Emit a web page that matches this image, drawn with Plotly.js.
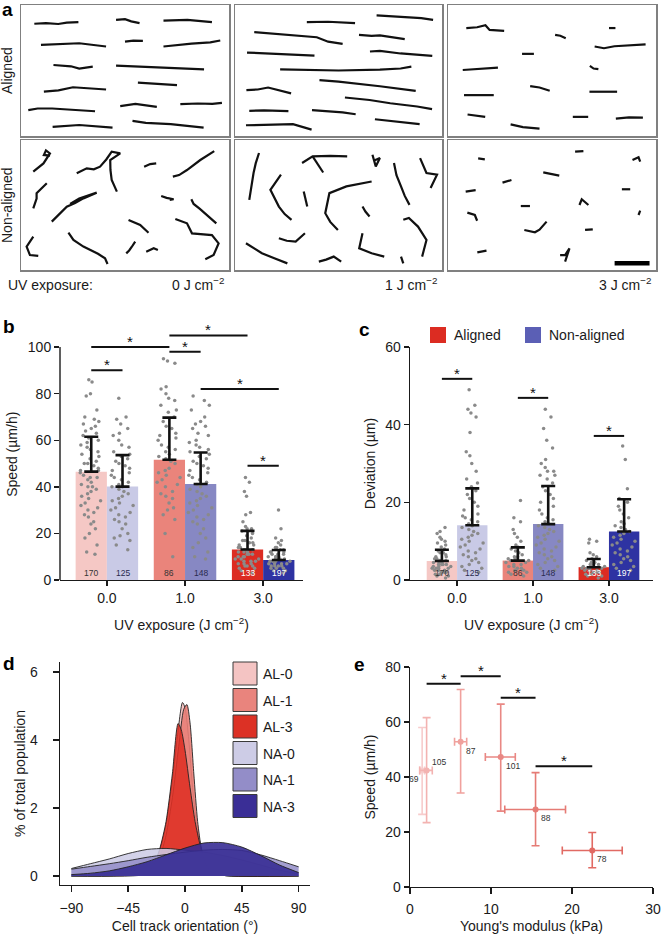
<!DOCTYPE html>
<html>
<head>
<meta charset="utf-8">
<script src="https://cdn.plot.ly/plotly-3.0.1.min.js"></script>
<style>
  body { margin: 0; background: #fff; }
  #fig { width: 661px; height: 934px; }
</style>
</head>
<body>
<div id="fig"></div>
<script>
// ---------- panel a : cell tracks (box-local 0-100 units, x,y pairs) ----------
const tracksAlign0 = [
  [6.4,85.7, 12,86.2, 17.9,85.5, 22,86.5, 27.6,87.0],
  [45.7,88.7, 50,89.2, 53,87.5, 57,86.2],
  [68.5,88, 75,88.2, 80,88.6, 91.8,87],
  [9.6,69.6, 20,70.2, 28,70.8, 40.9,68.3],
  [50,72.1, 54,72.8, 58.6,72.6],
  [68.5,68.3, 76,69.6, 82,70.5, 91,71.5, 95.8,72.9],
  [15.6,54.2, 24,53.2, 28,51.5, 34.5,53],
  [45.7,53.7, 55,53.2, 65,52.5, 88,50.9],
  [11,33.8, 18,34.8, 25,37.2, 40.9,35.5],
  [56.2,40.7, 66,39.8, 75,38.9],
  [3.5,19.7, 8,21, 15,21, 25,20, 35.6,18.9],
  [47.7,22.8, 52,23.5, 55,24.5, 65.3,22.2],
  [76.6,24.3, 85,24.8, 92,24.5, 96.6,25.3],
  [15.2,6.9, 22,7.8, 28,8.4, 44,6.4],
  [53.6,11.5, 57,11, 60,10, 72,9, 87.8,6.4]
];
const tracksAlign1 = [
  [34.7,87, 45,87.2, 58,86.2],
  [68.4,92.1, 80,91, 90,90, 95.7,88.7],
  [9.3,79.3, 25,77, 39.5,75.4, 45,72, 52,70.3],
  [59.9,77.2, 66,76.5, 70,76.8, 82,73.9],
  [5.8,63.7, 20,62.5, 38.4,61.4],
  [65.2,64.5, 70,65, 80,63, 95.3,61.1],
  [21.8,50.9, 35,50.5, 50,50, 70,50.6, 80,51.5, 85.2,52.9],
  [40.8,42.7, 50,41.5, 70,38, 87.3,34.5],
  [5.5,35, 11,35.5, 16,37, 27.1,32.5],
  [53.1,29.4, 65,27.5, 75,25, 88,22.5, 95.2,20.5],
  [6.9,19.2, 14,19.5, 25.8,19],
  [37.2,19.7, 45,19, 52,18, 58.3,16.6],
  [5.3,8.2, 18,8.8, 28,9, 37,4.9],
  [67.6,12.8, 78,11, 89.2,9]
];
const tracksAlign3 = [
  [8.8,82.4, 14,83, 18,84.5, 20,81, 27,80.3],
  [77.4,82.4, 80.5,82.4],
  [51.5,77.2, 54,76.5, 56.6,74.7],
  [70.5,68.3, 75,67, 80,68.5, 95,70],
  [35.6,62.7, 41.3,62.7],
  [7.1,50.4, 15,51.3, 24,52.2],
  [68.2,53.5, 70,51.5, 72.3,51],
  [39.5,38.1, 44,37, 48.9,34.5],
  [68,33.8, 81.3,33.8],
  [7.7,31.2, 22,31.2],
  [9.4,16.4, 13,15.8, 17.9,14.6],
  [60,14.6, 67.4,14.6],
  [80.7,13.3, 87,14.2, 93.7,14],
  [30.1,8.9, 36,6.8, 44,5.6]
];
const tracksNon0 = [
  [5.9,75.6, 8.5,79, 10.8,82, 13.9,89.7, 12,92, 11,88.5, 14,88],
  [26.8,74.4, 31.6,78.2, 35,77.5, 38,79.5, 41,85, 43.6,91, 47.7,89.7, 42.9,84.6, 43,77, 43.6,69.2, 46.1,60.3],
  [59.2,79.5, 62.1,81.5, 65,82],
  [73,71.8, 76,73, 79.8,76.9, 86.2,84.6, 92.9,91.5],
  [5.9,47.4, 7.5,55, 7.5,59, 10,63, 12.4,66.7],
  [14.8,37.2, 18,42, 22,48.7, 26,51.5, 30,55.1, 36.4,59.5, 28,55, 23.6,50.8],
  [67.4,56.9, 70,55.5, 73.4,54.4, 71.5,54],
  [81.9,54.4, 83,50.8, 86,47, 89.4,42.3, 93.9,35.9],
  [51.7,38.5, 54,37, 57.3,34.6, 61.3,28.7],
  [74.2,39.2, 79.8,35.9, 82.2,28.2, 87,27.5, 91.8,26.9, 95,20.5, 92.6,11.5, 88.6,8.2],
  [5.9,25.6, 2.7,17.9, 4.3,11.5, 8.3,10.8],
  [22.8,28.7, 25.2,23.1, 30,18, 33.2,15.4, 37,12.5, 40.4,9, 41.6,4.6],
  [50.6,12.8, 52,15, 53.3,17.9, 54.9,21.8],
  [60.2,14.1, 63.8,16.7, 65.8,15.4]
];
const tracksNon1 = [
  [11.6,90, 10,82, 8.96,74.6, 8,65, 6.9,54],
  [32.4,82.3, 37.5,87.4, 46,87.8, 54.2,87.4],
  [37.5,87.4, 40,81, 42.6,75],
  [66.4,88.7, 68,79.7, 70,86.1, 67,84],
  [76.8,82.3, 78,73, 80.2,64.3, 82,57, 84.3,50.1],
  [89.4,86.1, 92.5,74.6, 97.6,73.3, 94.5,63],
  [22.2,73.3, 17.1,61.7, 21.2,48.8, 24,43, 27.3,38.6],
  [33.2,60.4, 34.9,48.8],
  [66,68.1, 60,66.5, 53.8,64.3, 45.6,59.1, 43.6,43.7, 46,37, 49.7,30.8],
  [61.6,48.8, 63,45, 65,41.1],
  [81.3,38.6, 84,40, 88.4,33.4, 92.5,23.1, 90.4,10.3],
  [5.3,20.6, 9,17, 13,12.9, 19,9, 25.3,5.1],
  [21.2,24.4, 25,22.5, 29.3,21.9, 33.8,28.3],
  [61.6,28.3, 60,16.7, 66,12.9, 72.1,10.3],
  [40.5,6.4, 44,8, 47.7,10.3, 51.3,6.4],
  [80.2,10.3, 81.3,5.1]
];
const tracksNon3 = [
  [14.5,85.9, 17.7,85.1],
  [61.1,91, 65.1,91.5],
  [88.7,84.6, 91.6,86.7, 92.4,83.3],
  [45.8,75.1, 50,74, 53.5,72.6],
  [26.2,67.2, 30.5,69.2],
  [8.5,60.3, 13.3,61.5],
  [83.6,62.1, 87.6,62.1],
  [35,49.2, 39.4,49.2],
  [63.2,50, 64.3,54.4, 67.5,50],
  [91.6,42.3, 92.4,45.6],
  [9.3,44.1, 12.9,42.3, 14,37.9],
  [36.7,30.8, 41.8,29, 44,31, 47.4,37.2],
  [65.9,30.8, 69.6,31.3],
  [14.1,13.6, 18.5,14.9],
  [53.9,11.5, 56.3,11.5, 58.4,16.7, 56.3,6.4]
];
const scaleBarX = [80.1, 96.9];
const scaleBarY = [5.1, 5.1];
const uvDoseLabels = ['0 J cm<sup>−2</sup>', '1 J cm<sup>−2</sup>', '3 J cm<sup>−2</sup>'];

// ---------- panels b, c : bars + dots ----------
const uvCategories = ['0.0', '1.0', '3.0'];
const groupPos = [0, 1, 2];
const cellCountAL = ['170', '86', '133'];
const cellCountNA = ['125', '148', '197'];

const speedMeanAL = [46.5, 51.6, 13.1];
const speedSdAL = [15.0, 18.1, 8.0];
const speedMeanNA = [40.1, 41.2, 8.6];
const speedSdNA = [13.5, 13.5, 4.3];

const devMeanAL = [4.9, 5.0, 3.3];
const devSdAL = [2.9, 3.4, 2.1];
const devMeanNA = [14.1, 14.4, 12.5];
const devSdNA = [9.5, 9.8, 8.3];

const speedDotsAL = [
  [86,85,80,79,73,70,69,68,67,66,65,64,63,62,61,60,59,58,57,56,55,54,53,52,51,50,50,49,48,47,47,46,45,44,44,43,42,41,40,40,39,38,37,36,35,34,33,32,31,30,29,28,27,25,24,22,20,18,15,12,11],
  [95,94,93,83,82,80,78,77,75,73,72,70,68,66,65,63,62,61,60,58,57,56,55,54,53,52,51,50,48,47,46,45,44,43,42,41,40,38,37,36,35,33,31,30,28,26,20,10],
  [44,42,38,36,29,28,25,23,22,22,21,20,19,18,17,17,16,16,15,15,14,14,13,13,13,12,12,12,11,11,11,10,10,10,9,9,9,8,8,8,7,7,7,6,6,6,5,5,4,3]
];
const speedDotsNA = [
  [78,70,69,67,65,63,62,60,58,57,55,54,53,52,51,50,49,48,47,46,45,44,43,42,41,40,40,39,38,37,36,35,34,33,32,31,30,29,28,27,26,25,24,22,20,19,18,17,15,13],
  [79,77,75,73,70,68,67,66,65,63,62,60,59,58,57,56,55,54,53,52,51,50,49,48,47,46,45,44,43,42,41,40,39,38,37,36,35,34,33,32,31,30,29,28,27,26,25,24,22,20,18,16,14,12,10,9],
  [30,22,18,17,16,15,14,14,13,13,12,12,12,11,11,11,10,10,10,10,9,9,9,9,8,8,8,8,7,7,7,7,6,6,6,6,5,5,5,4,4,3]
];
const devDotsAL = [
  [13.5,12.5,12,11,10.5,10,9.5,9,8.5,8,7.5,7,7,6.5,6,6,5.5,5.5,5,5,5,4.5,4.5,4.5,4,4,4,4,3.5,3.5,3.5,3,3,3,3,2.5,2.5,2.5,2,2,2,1.5,1.5,1,1,0.5],
  [20.5,16,15,13,12,11,10,9,8.5,8,7.5,7,6.5,6,6,5.5,5.5,5,5,4.5,4.5,4,4,3.5,3.5,3,3,2.5,2.5,2,2,1.5,1],
  [10.5,10,9.5,7,6.5,6,5.5,5,5,4.5,4.5,4,4,4,3.5,3.5,3.5,3,3,3,3,2.5,2.5,2.5,2,2,2,1.5,1.5,1,1,0.5]
];
const devDotsNA = [
  [49,45,44,43,42,38,33,32,30,28,26,25,24,23,22,21,20,19,18,17,16.5,16,15.5,15,14.5,14,13.5,13,12.5,12,11.5,11,10.5,10,9.5,9,8.5,8,7.5,7,6.5,6,5.5,5,4.5,4,3.5,3,2.5,2],
  [44,42,39,36,34,31,30,29,28,28,27,27,26,25,24,23,22,21,20,19,18,17,16,15.5,15,14.5,14,13.5,13,12.5,12,11.5,11,10.5,10,9.5,9,8.5,8,7.5,7,6.5,6,5.5,5,4.5,4,3.5,3,2.5],
  [34.5,31,23.5,21,20,19,18,17,16,15,14.5,14,13.5,13,12.5,12,11.5,11,10.5,10,9.5,9,8.5,8,7.5,7,6.5,6,5.5,5,4.5,4,3.5,3,2.5]
];

// significance brackets: from, to (bar positions), height
const sigSpeedFrom = [-0.2, -0.2, 0.8, 0.8, 1.2, 1.8];
const sigSpeedTo   = [0.2, 0.8, 1.2, 1.8, 2.2, 2.2];
const sigSpeedY    = [90, 100, 98, 105, 82, 49];
const sigDevFrom = [-0.2, 0.8, 1.8];
const sigDevTo   = [0.2, 1.2, 2.2];
const sigDevY    = [51.8, 46.9, 37.1];

const colorsAL = ['#f5c8c5', '#ea847b', '#dc2c22'];
const colorsNA = ['#c9cae6', '#8788c3', '#2e33a2'];
const countColorAL = ['#333', '#333', '#fff'];
const countColorNA = ['#2a2a50', '#2a2a50', '#fff'];

// ---------- panel d : orientation distributions ----------
const orientLabels = ['AL-0', 'AL-1', 'AL-3', 'NA-0', 'NA-1', 'NA-3'];
const orientColors = ['#f4c4c3', '#e9847d', '#dc3125', '#cdcce6', '#938dc8', '#3a2e96'];
const orientFill = ['rgba(244,190,188,0.9)', 'rgba(233,125,118,0.9)', 'rgba(222,48,36,0.88)',
                    'rgba(205,204,230,0.88)', 'rgba(147,141,200,0.85)', 'rgba(55,44,148,0.9)'];
const al0X = [-90,-30,-25,-20,-15,-10,-6,-2,0,3,6,10,13,16,20,30,90];
const al0Y = [0,0.1,0.3,0.75,1.5,2.8,4.1,5.1,4.95,4.0,2.6,1.3,0.8,0.4,0.15,0.02,0];
const al1X = [-90,-30,-25,-20,-15,-10,-5,-1,1.5,4,7,10,13,16,20,30,90];
const al1Y = [0,0.05,0.2,0.55,1.2,2.3,3.8,4.9,5.04,4.5,3.0,1.6,0.8,0.4,0.15,0.02,0];
const al3X = [-90,-30,-25,-20,-15,-10,-5.5,-3,0,4,8,12,16,20,30,90];
const al3Y = [0,0.1,0.3,0.8,1.6,3.0,4.48,4.3,3.7,2.6,1.6,0.9,0.4,0.15,0.02,0];
const orientGrid = [-90,-75,-60,-45,-30,-15,0,15,30,45,60,75,90];
const na0Y = [0.22,0.36,0.5,0.66,0.78,0.81,0.76,0.7,0.6,0.47,0.32,0.17,0.06];
const na1Y = [0.2,0.28,0.36,0.45,0.55,0.63,0.7,0.76,0.78,0.75,0.62,0.45,0.27];
const na3Y = [0.04,0.08,0.15,0.27,0.42,0.62,0.82,0.97,0.98,0.85,0.6,0.32,0.1];

// ---------- panel e : speed vs stiffness ----------
const stiffness = [1.5, 2.05, 6.25, 11.2, 15.5, 22.5];
const stiffErrMinus = [0.3, 0.85, 0.75, 1.9, 3.8, 3.7];
const stiffErrPlus = [0.3, 0.7, 0.75, 1.8, 3.7, 3.7];
const speedE = [42.4, 42.4, 52.8, 47.3, 28.2, 13.3];
const speedEPlus = [15.6, 19.2, 19.0, 19.2, 13.4, 6.5];
const speedEMinus = [16.0, 19.0, 18.6, 19.7, 13.2, 6.3];
const cellCountE = ['69', '105', '87', '101', '88', '78'];
const colorsE = ['#f7cccc', '#f3b3b1', '#f0a19d', '#e98884', '#e57b75', '#e16a63'];
const sigEFrom = [2.05, 6.25, 11.2, 15.5];
const sigETo = [6.25, 11.2, 15.5, 22.5];
const sigEY = [73.9, 76.6, 68.8, 43.9];

// ---------- geometry helpers (figure pixels -> paper) ----------
const W = 661, H = 934;
const domX = (a, b) => [a / W, b / W];
const domY = (top, bottom) => [1 - bottom / H, 1 - top / H];
const px = v => v / W;
const py = v => 1 - v / H;
const axId = n => (n === 1 ? '' : String(n));

const ink = '#1a1a1a';
const traces = [];
const shapes = [];
const annotations = [];

// panel a
const trackSets = [tracksAlign0, tracksAlign1, tracksAlign3, tracksNon0, tracksNon1, tracksNon3];
trackSets.forEach((set, i) => {
  const xs = [], ys = [];
  set.forEach(t => {
    for (let k = 0; k < t.length; k += 2) { xs.push(t[k]); ys.push(t[k + 1]); }
    xs.push(null); ys.push(null);
  });
  traces.push({
    type: 'scatter', mode: 'lines', x: xs, y: ys,
    xaxis: 'x' + axId(i + 1), yaxis: 'y' + axId(i + 1),
    line: { color: '#111', width: 2.2 }, hoverinfo: 'skip'
  });
});
traces.push({
  type: 'scatter', mode: 'lines', x: scaleBarX, y: scaleBarY,
  xaxis: 'x6', yaxis: 'y6', line: { color: '#000', width: 4.5 }, hoverinfo: 'skip'
});

// panels b and c
function barPanel(n, meanAL, sdAL, meanNA, sdNA, dotsAL, dotsNA, from, to, sy, dotSize) {
  const xa = 'x' + n, ya = 'y' + n;
  const alX = groupPos.map(g => g - 0.2);
  const naX = groupPos.map(g => g + 0.2);
  traces.push({ type: 'bar', x: alX, y: meanAL, width: 0.4, xaxis: xa, yaxis: ya,
    marker: { color: colorsAL, line: { width: 0 } }, hoverinfo: 'skip' });
  traces.push({ type: 'bar', x: naX, y: meanNA, width: 0.4, xaxis: xa, yaxis: ya,
    marker: { color: colorsNA, line: { width: 0 } }, hoverinfo: 'skip' });
  [[dotsAL, alX], [dotsNA, naX]].forEach(([dots, xs]) => {
    dots.forEach((vals, i) => {
      traces.push({
        type: 'box', orientation: 'v', x: vals.map(() => xs[i]), y: vals,
        xaxis: xa, yaxis: ya, boxpoints: 'all', jitter: 0.95, pointpos: 0, width: 0.34,
        fillcolor: 'rgba(0,0,0,0)', line: { width: 0, color: 'rgba(0,0,0,0)' }, whiskerwidth: 0,
        marker: { color: '#8a8a8a', size: dotSize }, hoverinfo: 'skip'
      });
    });
  });
  [[alX, meanAL, sdAL], [naX, meanNA, sdNA]].forEach(([xs, m, sd]) => {
    traces.push({
      type: 'scatter', mode: 'markers', x: xs, y: m, xaxis: xa, yaxis: ya,
      marker: { size: 1, color: 'rgba(0,0,0,0)' },
      error_y: { type: 'data', symmetric: false, array: sd, arrayminus: sd.map(() => 0),
                 color: '#111', thickness: 2.6, width: 7 },
      hoverinfo: 'skip'
    });
  });
  const bx = [], by = [];
  from.forEach((f, i) => { bx.push(f, to[i], null); by.push(sy[i], sy[i], null); });
  traces.push({ type: 'scatter', mode: 'lines', x: bx, y: by, xaxis: xa, yaxis: ya,
    line: { color: '#111', width: 2 }, hoverinfo: 'skip' });
  from.forEach((f, i) => {
    annotations.push({ xref: xa, yref: ya, x: (f + to[i]) / 2, y: sy[i], text: '*',
      showarrow: false, yanchor: 'bottom', yshift: -5, font: { size: 15, color: '#111' } });
  });
  alX.forEach((x, i) => annotations.push({ xref: xa, yref: ya, x: x, y: 0, text: cellCountAL[i],
    showarrow: false, yanchor: 'bottom', yshift: 0, font: { size: 8.5, color: countColorAL[i] } }));
  naX.forEach((x, i) => annotations.push({ xref: xa, yref: ya, x: x, y: 0, text: cellCountNA[i],
    showarrow: false, yanchor: 'bottom', yshift: 0, font: { size: 8.5, color: countColorNA[i] } }));
}
barPanel(7, speedMeanAL, speedSdAL, speedMeanNA, speedSdNA, speedDotsAL, speedDotsNA,
         sigSpeedFrom, sigSpeedTo, sigSpeedY, 3.5);
barPanel(8, devMeanAL, devSdAL, devMeanNA, devSdNA, devDotsAL, devDotsNA,
         sigDevFrom, sigDevTo, sigDevY, 3.5);

// panel d
const orientX = [al0X, al1X, al3X, orientGrid, orientGrid, orientGrid];
const orientY = [al0Y, al1Y, al3Y, na0Y, na1Y, na3Y];
orientX.forEach((xs, i) => {
  traces.push({
    type: 'scatter', mode: 'lines', x: xs, y: orientY[i], xaxis: 'x9', yaxis: 'y9',
    fill: 'tozeroy', fillcolor: orientFill[i],
    line: { color: '#222', width: 0.9, shape: 'spline', smoothing: 0.7 }, hoverinfo: 'skip'
  });
});

// panel e
stiffness.forEach((s, i) => {
  traces.push({
    type: 'scatter', mode: 'markers', x: [s], y: [speedE[i]], xaxis: 'x10', yaxis: 'y10',
    marker: { color: colorsE[i], size: 6 },
    error_x: { type: 'data', symmetric: false, array: [stiffErrPlus[i]], arrayminus: [stiffErrMinus[i]],
               color: colorsE[i], thickness: 1.6, width: 4 },
    error_y: { type: 'data', symmetric: false, array: [speedEPlus[i]], arrayminus: [speedEMinus[i]],
               color: colorsE[i], thickness: 1.6, width: 4 },
    cliponaxis: false, hoverinfo: 'skip'
  });
  const left = i === 0, above = i === 1;
  annotations.push({ xref: 'x10', yref: 'y10', x: s, y: speedE[i], text: cellCountE[i], showarrow: false,
    xanchor: left ? 'right' : 'left', yanchor: above ? 'bottom' : 'top',
    xshift: left ? -1 : 3, yshift: above ? 1 : -2, font: { size: 8.5, color: '#333' } });
});
(function () {
  const bx = [], by = [];
  sigEFrom.forEach((f, i) => { bx.push(f, sigETo[i], null); by.push(sigEY[i], sigEY[i], null); });
  traces.push({ type: 'scatter', mode: 'lines', x: bx, y: by, xaxis: 'x10', yaxis: 'y10',
    line: { color: '#111', width: 2 }, hoverinfo: 'skip' });
  sigEFrom.forEach((f, i) => annotations.push({ xref: 'x10', yref: 'y10', x: (f + sigETo[i]) / 2,
    y: sigEY[i], text: '*', showarrow: false, yanchor: 'bottom', yshift: -5, font: { size: 15, color: '#111' } }));
})();

// ---------- axes ----------
const base = { showgrid: false, zeroline: false, fixedrange: true };
const frame = Object.assign({}, base, { range: [0, 100], showticklabels: false, ticks: '',
  showline: true, mirror: true, linecolor: '#808080', linewidth: 1.5 });
const axisStyle = Object.assign({}, base, { showline: true, linecolor: ink, linewidth: 1.4,
  ticks: 'outside', ticklen: 5, tickwidth: 1.4, tickcolor: ink, tickfont: { size: 14, color: ink } });
const ttl = (text, standoff) => ({ text: text, font: { size: 14, color: ink }, standoff: standoff });

const layout = {
  width: W, height: H, margin: { l: 0, r: 0, t: 0, b: 0 },
  paper_bgcolor: '#fff', plot_bgcolor: 'rgba(0,0,0,0)',
  font: { family: 'Liberation Sans, Arial, sans-serif', color: ink },
  showlegend: false, hovermode: false, barmode: 'overlay', boxmode: 'overlay',
  shapes: shapes, annotations: annotations
};
const cols = [[21, 229], [235, 442], [448, 656]];
const rows = [[5, 136], [140, 270]];
for (let r = 0; r < 2; r++) {
  for (let c = 0; c < 3; c++) {
    const n = r * 3 + c + 1;
    layout['xaxis' + axId(n)] = Object.assign({}, frame, { domain: domX(cols[c][0], cols[c][1]), anchor: 'y' + axId(n) });
    layout['yaxis' + axId(n)] = Object.assign({}, frame, { domain: domY(rows[r][0], rows[r][1]), anchor: 'x' + axId(n) });
  }
}
const uvTitle = 'UV exposure (J cm<sup>−2</sup>)';
layout.xaxis7 = Object.assign({}, axisStyle, { domain: domX(60, 303), range: [-0.6, 2.51], anchor: 'y7',
  tickvals: groupPos, ticktext: uvCategories, title: ttl(uvTitle, 15) });
layout.yaxis7 = Object.assign({}, axisStyle, { domain: domY(328.4, 580), range: [0, 108], anchor: 'x7',
  tickvals: [0, 20, 40, 60, 80, 100], showline: false, title: ttl('Speed (µm/h)', 6) });
layout.xaxis8 = Object.assign({}, axisStyle, { domain: domX(410, 653), range: [-0.62, 2.58], anchor: 'y8',
  tickvals: groupPos, ticktext: uvCategories, title: ttl(uvTitle, 15) });
layout.yaxis8 = Object.assign({}, axisStyle, { domain: domY(347, 580), range: [0, 60], anchor: 'x8',
  tickvals: [0, 20, 40, 60], title: ttl('Deviation (µm)', 6) });
layout.xaxis9 = Object.assign({}, axisStyle, { domain: domX(60, 310), range: [-99, 99], anchor: 'y9',
  ticklen: 6, ticklabelstandoff: 4, tickvals: [-90, -45, 0, 45, 90], title: ttl('Cell track orientation (°)', 8) });
layout.yaxis9 = Object.assign({}, axisStyle, { domain: domY(662, 885), range: [-0.265, 6.29], anchor: 'x9',
  ticklen: 6, ticklabelstandoff: 12, tickvals: [0, 2, 4, 6], title: ttl('% of total population', 1) });
layout.xaxis10 = Object.assign({}, axisStyle, { domain: domX(410, 653), range: [0, 30], anchor: 'y10',
  ticklen: 6, ticklabelstandoff: 3, tickvals: [0, 10, 20, 30], title: ttl("Young's modulus (kPa)", 9) });
layout.yaxis10 = Object.assign({}, axisStyle, { domain: domY(667, 887), range: [0, 80], anchor: 'x10',
  tickvals: [0, 20, 40, 60, 80], title: ttl('Speed (µm/h)', 6) });

// y axis line of panel b stops at 100
shapes.push({ type: 'line', xref: 'x7 domain', yref: 'y7', x0: 0, x1: 0, y0: 0, y1: 100,
  line: { color: ink, width: 1.4 } });

// ---------- panel letters and texts ----------
const letter = (t, x, y) => annotations.push({ xref: 'paper', yref: 'paper', x: px(x), y: py(y),
  xanchor: 'left', yanchor: 'top', text: '<b>' + t + '</b>', showarrow: false,
  font: { size: 19, color: '#000' } });
letter('a', 0, -3);
letter('b', 1, 314);
letter('c', 357, 317);
letter('d', 1, 651);
letter('e', 352, 652);

const plain = (t, x, y, xanchor, angle) => annotations.push({ xref: 'paper', yref: 'paper',
  x: px(x), y: py(y), xanchor: xanchor, yanchor: 'middle', text: t, showarrow: false,
  textangle: angle || 0, font: { size: 14, color: ink } });
plain('Aligned', 7, 71, 'center', -90);
plain('Non-aligned', 7, 205, 'center', -90);
plain('UV exposure:', 6, 285, 'left');
uvDoseLabels.forEach((t, i) => plain(t, cols[i][1] - 3, 284, 'right'));

// legend of panel c
[['Aligned', '#dc2c22', 430], ['Non-aligned', '#5b5fb5', 525]].forEach(([t, col, x]) => {
  shapes.push({ type: 'rect', xref: 'paper', yref: 'paper', x0: px(x), x1: px(x + 16),
    y0: py(343), y1: py(327), fillcolor: col, line: { width: 0 } });
  plain(t, x + 22, 335, 'left');
});

// legend of panel d
const legendTops = [662, 688.5, 715, 741.5, 768, 794.5];
orientLabels.forEach((t, i) => {
  shapes.push({ type: 'rect', xref: 'paper', yref: 'paper', x0: px(233), x1: px(257),
    y0: py(legendTops[i] + 23), y1: py(legendTops[i]), fillcolor: orientColors[i],
    line: { color: '#3a3a3a', width: 1 } });
  plain(t, 261, legendTops[i] + 12, 'left');
});

Plotly.newPlot('fig', traces, layout, { displayModeBar: false, staticPlot: true });
</script>
</body>
</html>
